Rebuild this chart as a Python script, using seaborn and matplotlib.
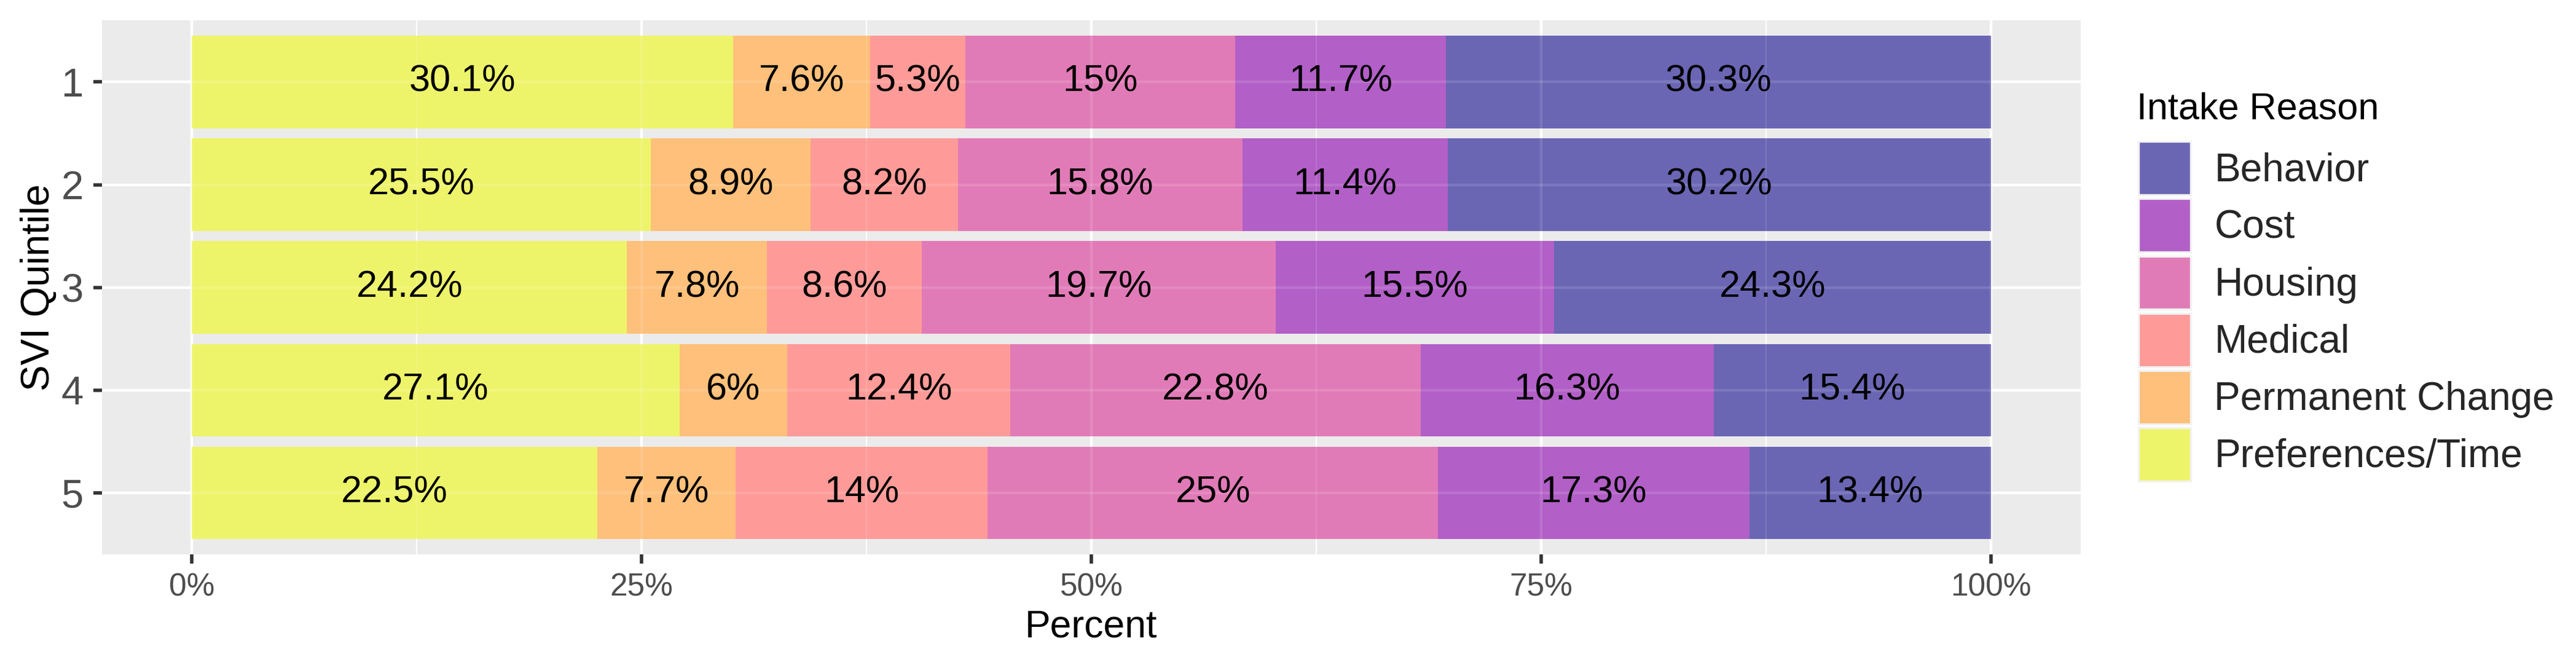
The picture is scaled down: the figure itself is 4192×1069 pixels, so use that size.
import numpy as np
import pandas as pd
import seaborn as sns
import matplotlib
matplotlib.use("Agg")
import matplotlib.pyplot as plt
from matplotlib.patches import Patch

# ---------------- data ----------------
quintiles = ["1", "2", "3", "4", "5"]
# stacking order, left to right
stack_order = ["Preferences/Time", "Permanent Change", "Medical", "Housing", "Cost", "Behavior"]
legend_order = ["Behavior", "Cost", "Housing", "Medical", "Permanent Change", "Preferences/Time"]

pref_time = [30.1, 25.5, 24.2, 27.1, 22.5]
permanent_change = [7.6, 8.9, 7.8, 6, 7.7]
medical = [5.3, 8.2, 8.6, 12.4, 14]
housing = [15, 15.8, 19.7, 22.8, 25]
cost = [11.7, 11.4, 15.5, 16.3, 17.3]
behavior = [30.3, 30.2, 24.3, 15.4, 13.4]

series = {
    "Preferences/Time": pref_time,
    "Permanent Change": permanent_change,
    "Medical": medical,
    "Housing": housing,
    "Cost": cost,
    "Behavior": behavior,
}

palette = {
    "Behavior": "#6A66B4",
    "Cost": "#B25FC7",
    "Housing": "#E17BB8",
    "Medical": "#FE9B98",
    "Permanent Change": "#FEC07A",
    "Preferences/Time": "#EEF46A",
}

x_ticks = [0, 25, 50, 75, 100]
x_tick_labels = ["0%", "25%", "50%", "75%", "100%"]

# ---------------- long table ----------------
rows = []
for qi, q in enumerate(quintiles):
    total = sum(series[r][qi] for r in stack_order)
    run = 0.0
    for r in stack_order:
        v = series[r][qi]
        start = run / total * 100
        run += v
        end = run / total * 100
        rows.append(dict(quintile=q, reason=r, value=v, start=start, end=end))
df = pd.DataFrame(rows)

# ---------------- style ----------------
sns.set_theme(style="darkgrid")
plt.rcParams["font.family"] = ["Liberation Sans", "DejaVu Sans"]

W, H, DPI = 4192, 1069, 200
fig = plt.figure(figsize=(W / DPI, H / DPI), dpi=DPI)
fig.patch.set_facecolor("white")
ax = fig.add_axes([0.0396, 0.156, 0.7681, 0.813])
ax.set_facecolor("#EBEBEB")

# draw stacked bars: from the right-most segment to the left-most
for r in reversed(stack_order):
    sub = df[df["reason"] == r]
    sns.barplot(data=sub, x="end", y="quintile", order=quintiles, orient="h",
                color=palette[r], saturation=1, width=0.9, errorbar=None,
                linewidth=0, edgecolor="none", ax=ax, zorder=2)

# labels
for _, row in df.iterrows():
    yi = quintiles.index(row["quintile"])
    ax.text((row["start"] + row["end"]) / 2, yi, f"{row['value']:g}%",
            ha="center", va="center", fontsize=22, color="black", zorder=5)

# axes limits (ggplot-like expansion)
ax.set_xlim(-5, 105)
ax.set_ylim(len(quintiles) - 0.4, -0.6)

ax.set_xticks(x_ticks)
ax.set_xticklabels(x_tick_labels)
ax.set_xticks([12.5, 37.5, 62.5, 87.5], minor=True)

ax.set_axisbelow(True)
ax.grid(which="major", axis="both", color="white", linewidth=1.6)
ax.grid(which="minor", axis="x", color="white", linewidth=0.8)

# faint grid showing through the (slightly transparent) bars
for xv in x_ticks:
    ax.axvline(xv, color="white", alpha=0.12, linewidth=1.6, zorder=3)
for xv in [12.5, 37.5, 62.5, 87.5]:
    ax.axvline(xv, color="white", alpha=0.12, linewidth=0.8, zorder=3)
for yi in range(len(quintiles)):
    ax.axhline(yi, color="white", alpha=0.12, linewidth=1.6, zorder=3)

for s in ax.spines.values():
    s.set_visible(False)

ax.tick_params(axis="y", which="major", length=5, width=2, color="#333333",
               labelsize=23.5, labelcolor="#4D4D4D", pad=5.8, left=True)
ax.tick_params(axis="x", which="major", length=5.4, width=2, color="#333333",
               labelsize=18.5, labelcolor="#4D4D4D", pad=5, bottom=True)
ax.tick_params(axis="x", which="minor", length=0)

ax.set_xlabel("Percent", fontsize=22.5, color="black", va="top")
ax.xaxis.set_label_coords(0.5, -0.101)
ax.set_ylabel("")
fig.text(0.015, (0.156 + 0.969) / 2, "SVI Quintile", rotation=90, ha="center",
         va="center", fontsize=23, color="black")

# legend
fig.text(0.8295, 1 - 193 / H, "Intake Reason", ha="left", va="baseline",
         fontsize=22, color="black")
handles = [Patch(facecolor=palette[r], edgecolor="#F2F2F2", linewidth=1.2, label=r)
           for r in legend_order]
fig.legend(handles=handles, loc="upper left", bbox_to_anchor=(3480 / W, 1 - 230 / H),
           frameon=False, fontsize=23, borderpad=0, borderaxespad=0,
           handlelength=1.33, handleheight=1.715, handletextpad=0.6,
           labelspacing=0.1)

fig.savefig("out.png", dpi=DPI, facecolor="white")
